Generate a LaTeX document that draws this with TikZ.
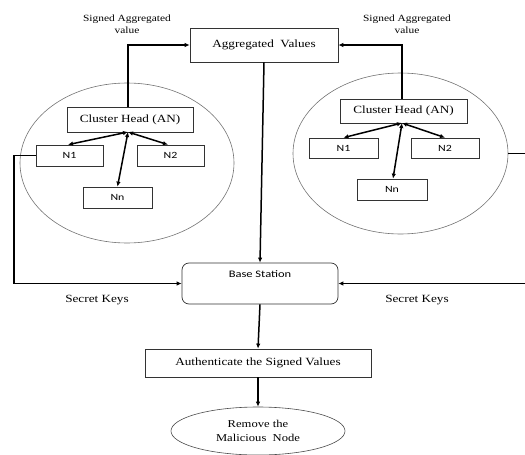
\documentclass[tikz,border=0pt]{standalone}
\usepackage{fontspec}
\setmainfont{Liberation Serif}[FakeStretch=1.2]
\newfontfamily\sansfnt{Carlito}[FakeStretch=1.25]
\usetikzlibrary{shapes.geometric,arrows.meta}
\begin{document}
\begin{tikzpicture}[x=1pt,y=-1pt,
  box/.style={draw=black!80,line width=0.7pt,rectangle,inner sep=0pt,font=\fontsize{11}{13}\selectfont},
  nbox/.style={draw=black!80,line width=0.7pt,rectangle,inner sep=0pt,font=\sansfnt\fontsize{9.5}{11}\selectfont},
  cloud/.style={draw=black!55,line width=0.6pt,ellipse,inner sep=0pt},
  arr/.style={line width=1.5pt,-{Latex[length=5pt,width=4.5pt]}},
  barr/.style={line width=1.5pt,{Latex[length=5pt,width=4.5pt]}-{Latex[length=5pt,width=4.5pt]}},
  lab/.style={font=\fontsize{9.5}{11.5}\selectfont,align=center,inner sep=0pt},
  klab/.style={font=\fontsize{11}{13}\selectfont,inner sep=0pt}]
\useasboundingbox (0,0) rectangle (525,455);
% clusters
\node[cloud,minimum width=214,minimum height=160] (cloudL) at (127,163) {};
\node[cloud,minimum width=215,minimum height=161] (cloudR) at (400.5,153.5) {};
% boxes
\node[box,minimum width=148,minimum height=34] (agg) at (264,45) {Aggregated\ \ Values};
\node[box,minimum width=126,minimum height=25] (chL) at (130,119.5) {Cluster Head (AN)};
\node[nbox,minimum width=67,minimum height=21] (n1L) at (69.5,155.5) {N1};
\node[nbox,minimum width=67,minimum height=21] (n2L) at (170.5,155.5) {N2};
\node[nbox,minimum width=69,minimum height=21] (nnL) at (117.5,197.5) {Nn};
\node[box,minimum width=127,minimum height=24] (chR) at (403.5,111) {Cluster Head (AN)};
\node[nbox,minimum width=69,minimum height=20] (n1R) at (343.5,148) {N1};
\node[nbox,minimum width=68,minimum height=20] (n2R) at (445,148) {N2};
\node[nbox,minimum width=70,minimum height=21] (nnR) at (392,189.5) {Nn};
\node[draw=black!80,line width=0.7pt,rounded corners=7pt,minimum width=156,minimum height=41,inner sep=0pt,
      text height=7pt,text depth=20pt,font=\sansfnt\fontsize{10}{12}\selectfont] (bs) at (260,283.5) {Base Station};
\node[box,minimum width=226,minimum height=28] (auth) at (258,363) {Authenticate the Signed Values};
\node[draw=black!70,line width=0.6pt,ellipse,minimum width=174,minimum height=48,inner sep=0pt,align=center,
      font=\fontsize{10.5}{14}\selectfont] (rem) at (258,431) {Remove the\\Malicious\ \ Node};
% labels
\node[lab] (sigL) at (127,24) {Signed Aggregated\\value};
\node[lab] (sigR) at (407,24) {Signed Aggregated\\value};
\node[klab] (skL) at (97,300) {Secret Keys};
\node[klab] (skR) at (417,300) {Secret Keys};
% hubs and corners
\coordinate (hubL) at (128,132);
\coordinate (hubR) at (402,123);
\coordinate (lcorner) at (14,283.5);
\coordinate (rcorner) at (532,283.5);
% connectors
\draw[arr] ([xshift=-2pt]chL.north) |- (agg.west);
\draw[arr] ([xshift=-1.5pt]chR.north) |- (agg.east);
\draw[arr] (agg.south) -- (bs.north);
\draw[barr] (hubL) -- ([xshift=-1.5pt]n1L.north);
\draw[barr] (hubL) -- ([xshift=-2.5pt]n2L.north);
\draw[barr] (hubL) -- (nnL.north);
\draw[barr] (hubR) -- (n1R.north);
\draw[barr] (hubR) -- (n2R.north);
\draw[barr] (hubR) -- ([xshift=1pt]nnR.north);
\draw[arr] (n1L.west) -| (lcorner) -- (bs.west);
\draw[arr] (cloudR.east) -| (rcorner) -- (bs.east);
\draw[arr] (bs.south) -- (auth.north);
\draw[arr] (auth.south) -- (rem.north);
\end{tikzpicture}
\end{document}
